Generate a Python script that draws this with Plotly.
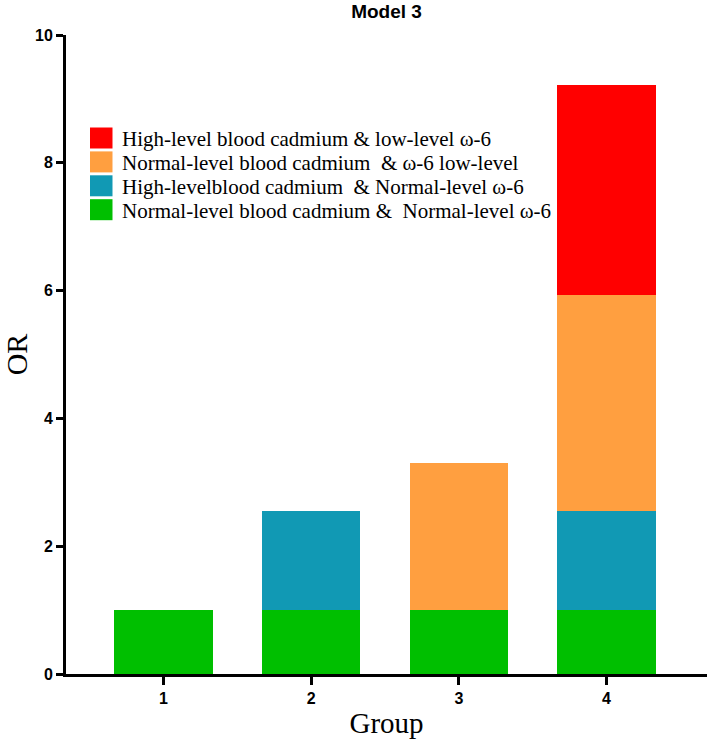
import plotly.graph_objects as go

# ---- data ----
groups = [1, 2, 3, 4]
tick_labels = ["1", "2", "3", "4"]
series_names = [
    "Normal-level blood cadmium &\u00a0 Normal-level ω-6",
    "High-levelblood cadmium \u00a0& Normal-level ω-6",
    "Normal-level blood cadmium \u00a0& ω-6 low-level",
    "High-level blood cadmium & low-level ω-6",
]
green_vals = [1.0, 1.0, 1.0, 1.0]
blue_vals = [None, 1.55, None, 1.55]
orange_vals = [None, None, 2.30, 3.38]
red_vals = [None, None, None, 3.29]
series_values = [green_vals, blue_vals, orange_vals, red_vals]
colors = ["#00BF00", "#1199B4", "#FF9F40", "#FF0000"]

W, H = 708, 743
ML, MR, MT, MB = 66, 1, 35, 69
PW, PH = W - ML - MR, H - MT - MB

fig = go.Figure()
for name, vals, col in zip(series_names, series_values, colors):
    fig.add_trace(go.Bar(
        x=groups, y=vals, name=name, width=0.665,
        marker=dict(color=col, line=dict(width=0)),
        showlegend=False,
    ))

# manual legend (top-down: red, orange, blue, green)
def px_x(p):
    return (p - ML) / PW

def px_y(p):
    return 1 - (p - MT) / PH

row_top = 127.5
pitch = 23.9
sw_h = 21
for i, (name, col) in enumerate(zip(series_names[::-1], colors[::-1])):
    top = row_top + i * pitch
    fig.add_shape(type="rect", xref="paper", yref="paper",
                  x0=px_x(90), x1=px_x(112.5), y0=px_y(top + sw_h), y1=px_y(top),
                  fillcolor=col, line=dict(width=0))
    fig.add_annotation(xref="paper", yref="paper", x=px_x(120), y=px_y(top + sw_h / 2 + 1),
                       xanchor="left", yanchor="middle", showarrow=False,
                       text=name,
                       font=dict(family="Liberation Serif, Times New Roman, serif", size=21, color="black"))

tick_font = dict(family="Liberation Sans Narrow, Arial Narrow, Liberation Sans, Arial, sans-serif",
                 size=16, color="black", weight="bold")

fig.update_layout(
    width=W, height=H,
    margin=dict(l=ML, r=MR, t=MT, b=MB),
    paper_bgcolor="white", plot_bgcolor="white",
    barmode="stack",
    title=dict(text="<b>Model 3</b>", x=0.5, xref="paper", xanchor="center",
               y=1 - 11 / H, yanchor="middle",
               font=dict(family="Liberation Sans, Arial, sans-serif", size=19, color="black")),
    xaxis=dict(
        range=[0.34, 4.68], tickvals=groups, ticktext=tick_labels,
        showline=True, linewidth=3, linecolor="black",
        ticks="outside", ticklen=8, tickwidth=3, tickcolor="black",
        showgrid=False, zeroline=False, tickfont=tick_font,
        title=dict(text="Group", standoff=7,
                   font=dict(family="Liberation Serif, Times New Roman, serif", size=29, color="black")),
    ),
    yaxis=dict(
        range=[0, 10], dtick=2, tick0=0,
        showline=True, linewidth=3, linecolor="black",
        ticks="outside", ticklen=7, tickwidth=3, tickcolor="black",
        showgrid=False, zeroline=False, tickfont=tick_font,
        title=dict(text="OR", standoff=10,
                   font=dict(family="Liberation Serif, Times New Roman, serif", size=30, color="black")),
    ),
)

fig.write_html("out.html", config={"displayModeBar": False},
               post_script="document.body.style.margin='0';")
